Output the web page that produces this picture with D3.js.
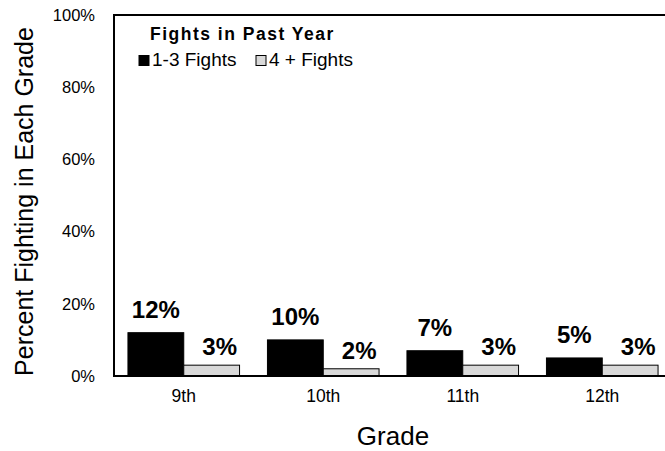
<!DOCTYPE html>
<html>
<head>
<meta charset="utf-8">
<script src="https://cdn.jsdelivr.net/npm/d3@7"></script>
<style>
  html, body { margin: 0; padding: 0; background: #fff; }
  svg { display: block; font-family: "Liberation Sans", Arial, sans-serif; }
</style>
</head>
<body>
<svg id="chart" width="665" height="451"></svg>
<script>
// Share of students who fought in the past year, by grade
const grades = ["9th", "10th", "11th", "12th"];
const series = ["1-3 Fights", "4 + Fights"];
const fights1to3 = [0.12, 0.10, 0.07, 0.05];
const fights4plus = [0.03, 0.02, 0.03, 0.03];
const yTicks = [0, 0.2, 0.4, 0.6, 0.8, 1.0];
const legendTitle = "Fights in Past Year";

const fills = ["#000000", "#d9d9d9"];

const svg = d3.select("#chart");
const plot = { left: 114, right: 672, top: 15, bottom: 376 };

const x = d3.scaleBand()
  .domain(grades)
  .range([plot.left, plot.right])
  .paddingInner(0.2)
  .paddingOuter(0.1);

const xs = d3.scaleBand()
  .domain(series)
  .range([0, x.bandwidth()]);

const y = d3.scaleLinear().domain([0, 1]).range([plot.bottom, plot.top]);

const rows = grades.map((g, i) => ({ grade: g, values: [fights1to3[i], fights4plus[i]] }));

// Bars
const groups = svg.append("g").selectAll("g")
  .data(rows).join("g")
  .attr("transform", d => `translate(${x(d.grade)},0)`);

groups.selectAll("rect")
  .data(d => d.values.map((v, j) => ({ key: series[j], v, j })))
  .join("rect")
  .attr("x", d => xs(d.key))
  .attr("y", d => y(d.v))
  .attr("width", xs.bandwidth())
  .attr("height", d => y(0) - y(d.v))
  .attr("fill", d => fills[d.j])
  .attr("stroke", "#000")
  .attr("stroke-width", 1);

// Value labels
const fmt = d3.format(".0%");
groups.selectAll("text")
  .data(d => d.values.map((v, j) => ({ key: series[j], v, j })))
  .join("text")
  .attr("x", d => xs(d.key) + xs.bandwidth() / 2 + (d.j === 1 ? 8 : 0))
  .attr("y", d => y(d.v) - (d.j === 0 ? 15 : 10))
  .attr("text-anchor", "middle")
  .attr("font-size", 24)
  .attr("font-weight", "bold")
  .attr("fill", "#000")
  .text(d => fmt(d.v));

// Plot frame
svg.append("path")
  .attr("d", `M${plot.right},${plot.top}H${plot.left}V${plot.bottom}H${plot.right}`)
  .attr("fill", "none")
  .attr("stroke", "#000")
  .attr("stroke-width", 2);

// Y axis labels
const yAxis = d3.axisLeft(y).tickValues(yTicks).tickFormat(d3.format(".0%")).tickSize(0).tickPadding(19);
const gy = svg.append("g").attr("transform", `translate(${plot.left},0)`).call(yAxis);
gy.select(".domain").remove();
gy.selectAll("text").attr("font-size", 16.5).attr("font-family", "Liberation Sans, Arial, sans-serif").attr("fill", "#000");

// X axis labels
const xAxis = d3.axisBottom(x).tickSize(0).tickPadding(14);
const gx = svg.append("g").attr("transform", `translate(0,${plot.bottom})`).call(xAxis);
gx.select(".domain").remove();
gx.selectAll("text").attr("font-size", 17.5).attr("font-family", "Liberation Sans, Arial, sans-serif").attr("fill", "#000");

// Axis titles
svg.append("text")
  .attr("x", (plot.left + plot.right) / 2)
  .attr("y", 445)
  .attr("text-anchor", "middle")
  .attr("font-size", 26)
  .text("Grade");

svg.append("text")
  .attr("transform", `translate(33,${(plot.top + plot.bottom) / 2 + 6}) rotate(-90)`)
  .attr("text-anchor", "middle")
  .attr("font-size", 25)
  .text("Percent Fighting in Each Grade");

// Legend
const legend = svg.append("g");
legend.append("text")
  .attr("x", 150).attr("y", 40)
  .attr("font-size", 17.5)
  .attr("font-weight", "bold")
  .attr("letter-spacing", 1.5)
  .text(legendTitle);

const legendX = [139, 256];
series.forEach((s, j) => {
  legend.append("rect")
    .attr("x", legendX[j]).attr("y", 55.5)
    .attr("width", 10).attr("height", 10)
    .attr("fill", fills[j])
    .attr("stroke", "#000").attr("stroke-width", 1);
  legend.append("text")
    .attr("x", legendX[j] + 13).attr("y", 66)
    .attr("font-size", 19)
    .text(s);
});
</script>
</body>
</html>
